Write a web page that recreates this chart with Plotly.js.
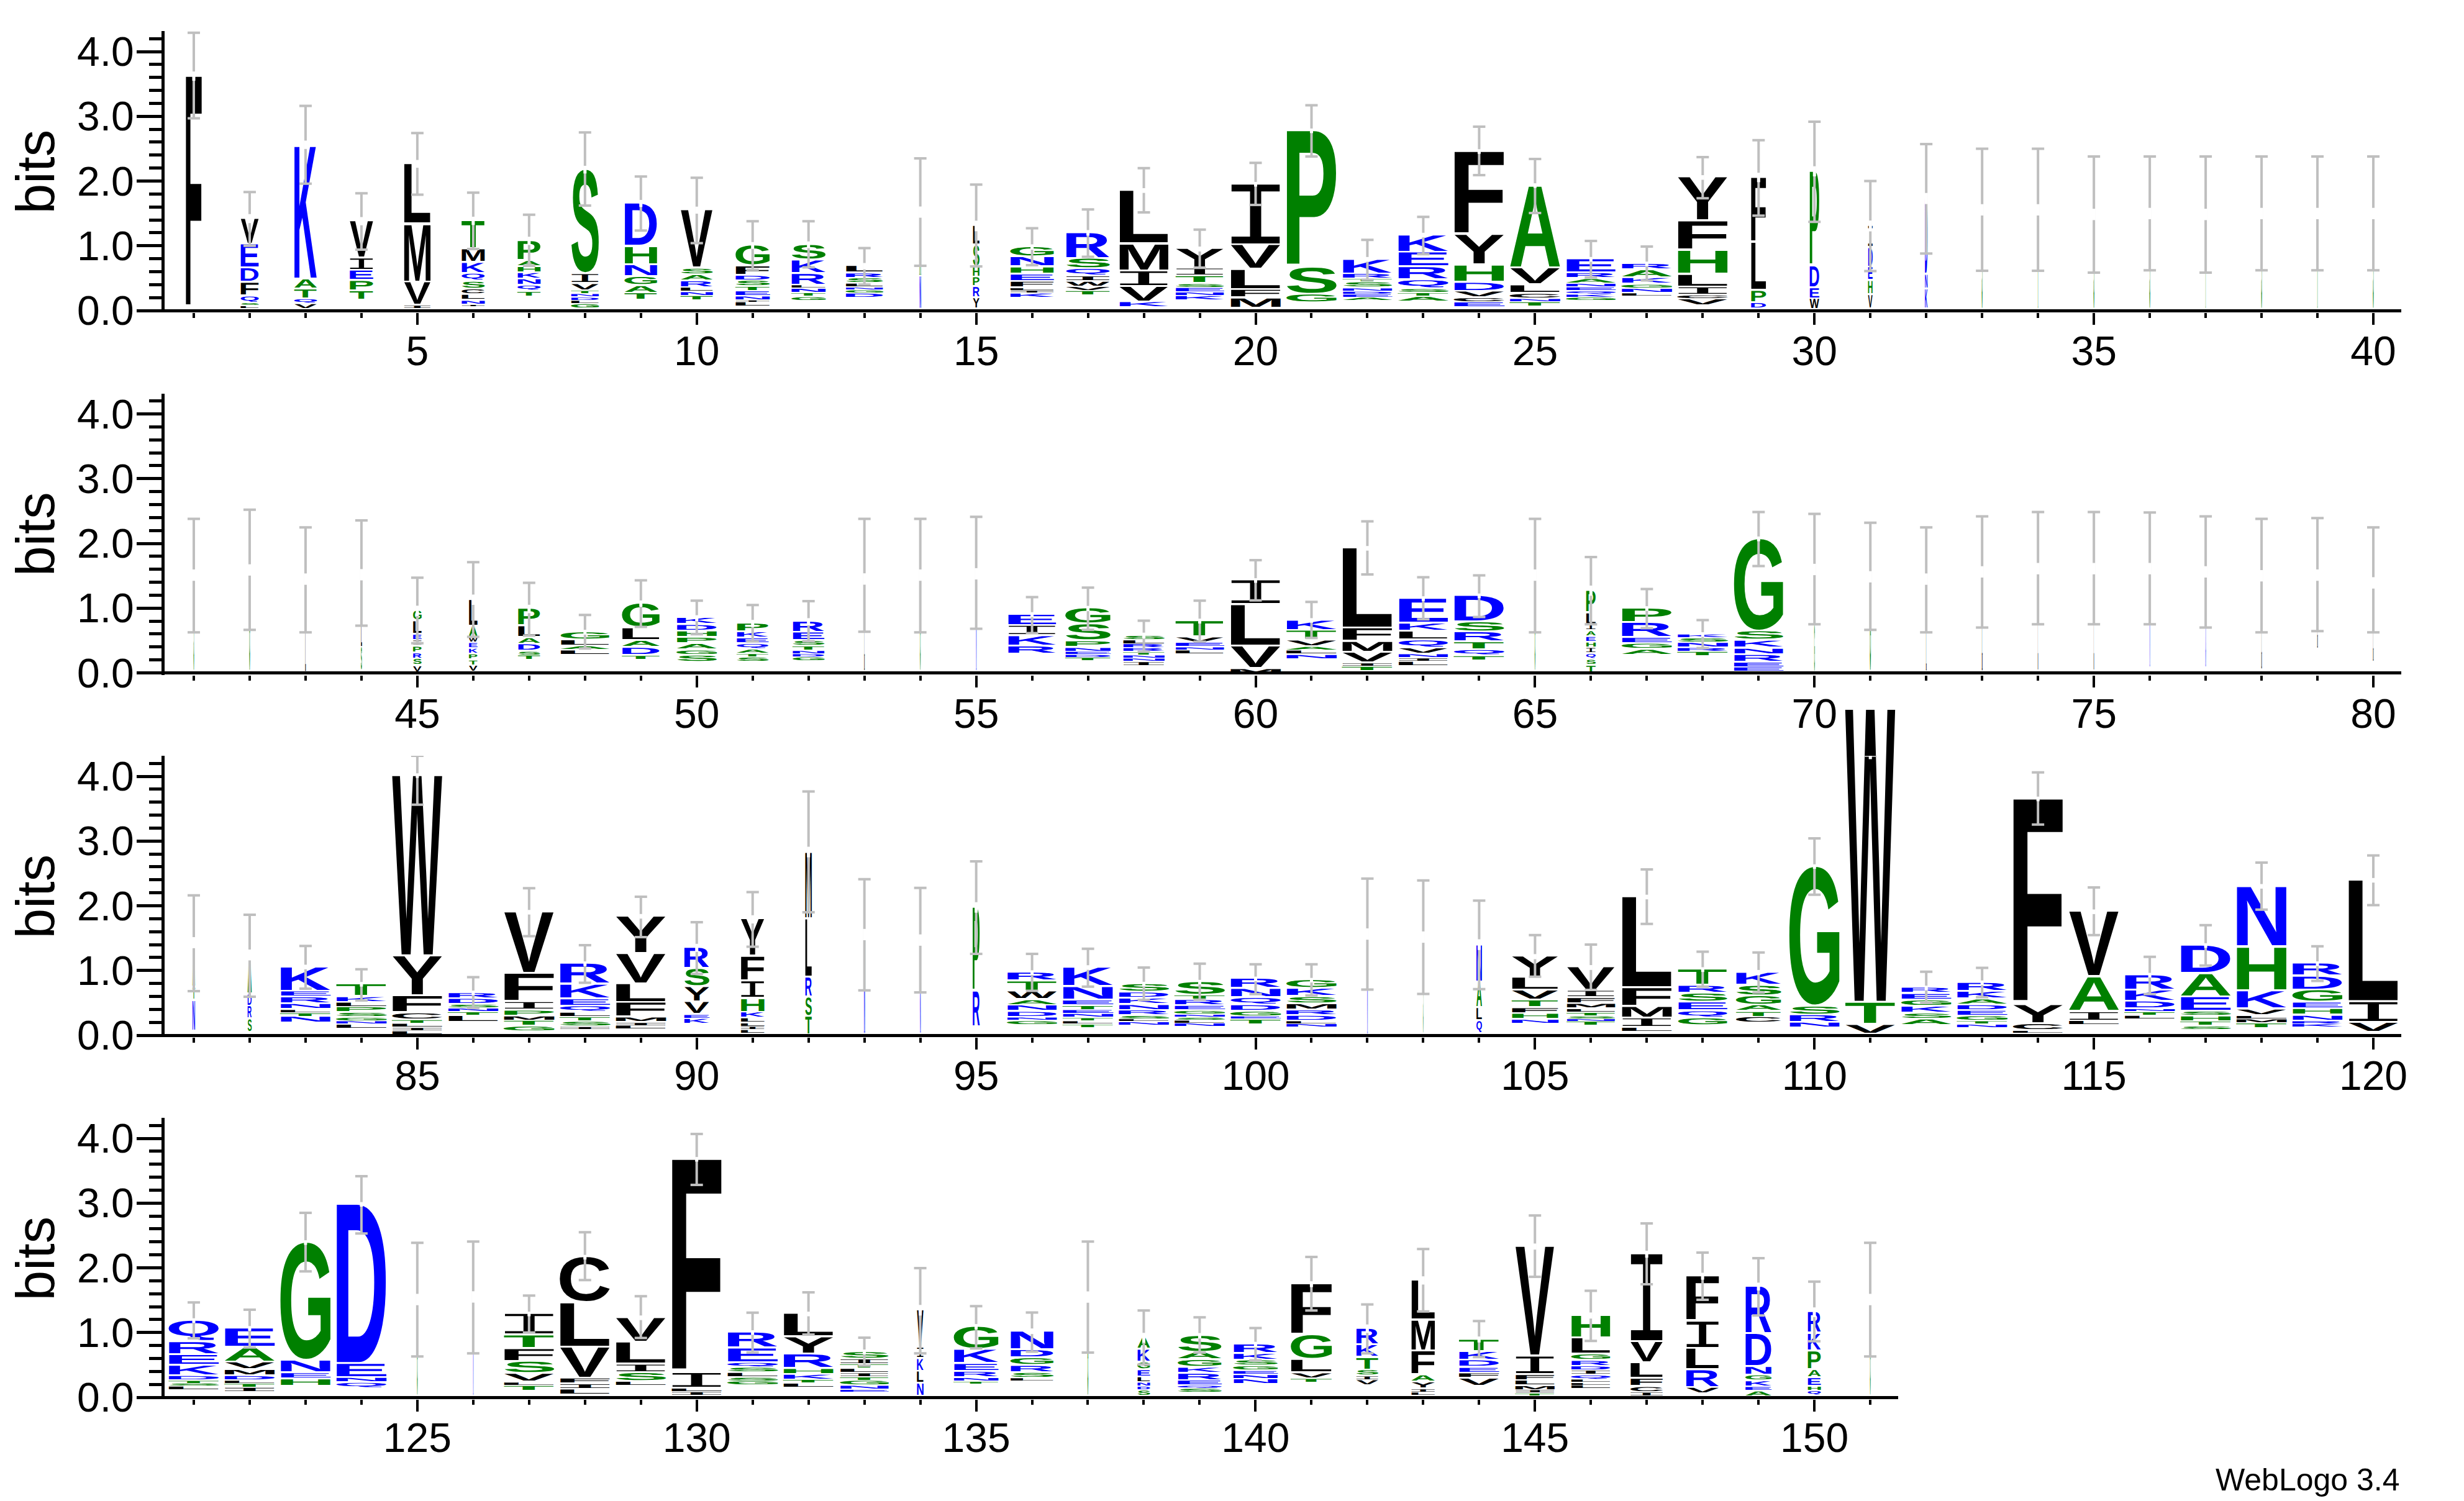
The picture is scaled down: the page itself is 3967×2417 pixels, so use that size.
<!DOCTYPE html>
<html><head><meta charset="utf-8">
<script src="https://cdn.plot.ly/plotly-3.0.1.min.js"></script>
<style>html,body{margin:0;padding:0;background:#fff}#g{width:3967px;height:2417px}</style>
</head><body><div id="g"></div>
<script>
// One entry per sequence position, 1..151. Letters run from the top of the stack downward.
const residues = ["F","VEDFQSL","KATQV","VIEPT","LMVI","TMKQSCLNI","PAHKNQT","SIVTNDLG","DHNGAT","VSARLNT",
"GFDSTENIL","SKRLNTG","LRSLNGD","AN","LSHPRY","GNHEFLIK","RSQIWVT","LMIVK","YITSENK","IVLFM",
"PSG","KRTSNDEA","KERQSTA","FYHDVCE","AVLCNT","ERANEQKG","RAKGNL","YFHLICV","FLPD","PDEW",
"IDEHV","DNK","S","T","S","S","T","S","T","S",
"S","G","TL","GLS","GLEIPRSV","LAWEKPTV","PLADST","GLAL","GLADT","KDHPAGS",
"PKEQATS","RESTNDG","L","G","N","EIKR","GSPNEDT","SLRRTNNI","TVENL","ILVMT",
"KTVALN","LFMVIT","EKLQVNIL","DSRTQT","G","PLIAEHIQST","PREGA","KSNRT","GSKNREE","LG",
"G","TL","L","L","L","N","D","L","L","GL",
"ATN","ADRS","KERNLTN","TKLPSGNL","WYFCTLIL","RDSNTL","VFIPMTG","RKEQLTSI","YVLFMIL","RSYVEK",
"YFIHKLLIL","MLRST","N","GN","PRL","RTWANDNG","KNETENTLT","SDKNRSLN","STREGNSLN","RNQDGET",
"GKSMRDLN","N","S","NALQ","YLVTFHN","VIFMLTSNT","LFMIL","TRSEQG","KSGATC","GSRN",
"WTV","REGKSA","RKADEGTN","FYCL","VAIL","RKDNTL","DAESHTS","NHKVLMT","RDGEHNRK","LIV",
"QREKDTSL","EAVMDLTI","GNEH","DENQ","G","N","ITFSVLT","CLVFIL","VLISL","FILI",
"REQSLSG","LYRHKTL","SITLITGNE","VIKLN","GKERNT","NDGRSL","G","AKGELNDS","SAGKREQS","RKSGENN",
"FGLVT","RKTSIV","LMFAYIL","TKDEFV","VIFLMIT","HLGRDIQLLL","IVLFCI","FILRV","RDNGKEA","RKPAEHQ","G"];
// Letter heights in bits, same order as residues.
const heights = [[3.575],[.40,.37,.22,.21,.11,.04,.03],[2.08,.156,.153,.075,.06],[.575,.19,.156,.16,.117],[.93,.90,.36,.035],
[.44,.21,.17,.12,.12,.085,.085,.064,.02],[.31,.09,.096,.10,.10,.09,.057],[1.615,.15,.11,.05,.05,.05,.05,.05],[.667,.284,.185,.135,.12,.085],[.90,.10,.096,.106,.064,.064,.05],
[.32,.146,.078,.096,.07,.078,.064,.03,.05],[.238,.21,.18,.05,.07,.057,.043],[.114,.075,.085,.057,.04,.05,.05],[.994,.48],[.30,.337,.16,.15,.17,.142],
[.156,.156,.11,.114,.10,.04,.04,.05],[.40,.16,.114,.078,.085,.064,.05],[.824,.42,.24,.24,.064],[.30,.12,.12,.064,.07,.057,.05],[.94,.38,.31,.13,.13],
[2.11,.42,.106],[.23,.078,.05,.09,.05,.043,.05,.036],[.27,.227,.20,.138,.064,.057,.057],[1.29,.47,.266,.14,.10,.07,.057],[1.28,.26,.13,.08,.05,.05],
[.216,.085,.078,.057,.057,.05,.05,.036],[.096,.124,.10,.064,.067,.035],[.678,.454,.37,.195,.128,.06,.078],[1.01,.74,.19,.067],[1.466,.337,.17,.142],
[.34,.30,.21,.22,.19],[1.17,.23,.284],[1.51],[1.51],[1.44],[1.45],[1.44],[1.45],[1.45],[1.45],
[1.46],[1.54],[.81,.60],[.77,.355,.337],[.163,.206,.092,.09,.103,.092,.106,.078],[.412,.177,.078,.089,.089,.089,.089,.078],[.27,.177,.10,.11,.064,.053],[.124,.096,.06,.053],[.38,.195,.106,.124,.046],[.106,.10,.10,.096,.096,.075,.082],
[.135,.096,.082,.089,.067,.053,.05],[.17,.13,.082,.07,.053,.05,.043],[1.40],[1.46],[1.48],[.174,.156,.16,.096],[.248,.26,.10,.064,.046,.046,.036],[.07,.064,.064,.057,.05,.05,.05,.046],[.25,.09,.064,.05,.043],[.38,.64,.347,.078,.043],
[.16,.15,.10,.06,.06,.05],[1.24,.206,.167,.163,.05,.05],[.383,.124,.135,.124,.096,.064,.05,.05],[.408,.156,.153,.124,.092,.05],[1.46],[.347,.185,.092,.092,.085,.089,.089,.089,.089,.085],[.224,.23,.092,.092,.064],[.06,.07,.08,.06,.05],[1.43,.142,.12,.10,.117,.08,.05],[.85,.71],
[1.43],[.80,.60],[1.51],[1.56],[1.56],[1.50],[1.45],[1.42],[1.11],[.11,1.085],
[.69,.2,.45],[.61,.185,.2,.18],[.38,.09,.106,.086,.05,.06,.075],[.195,.086,.074,.086,.07,.06,.05,.047],[2.79,.615,.263,.11,.06,.06,.05,.04],[.094,.09,.06,.055,.055,.078],[.95,.44,.127,.09,.074,.086,.055],[.32,.227,.114,.10,.07,.067,.078,.03],[.576,.47,.29,.23,.078,.05,.04],[.325,.28,.235,.196,.063,.06],
[.576,.383,.266,.215,.094,.07,.055,.05,.04],[1.04,.90,.305,.30,.26],[1.51],[.775,.646],[1.3,.55,.157],[.133,.16,.13,.086,.098,.09,.047,.047],[.30,.21,.08,.07,.06,.06,.05,.047,.04],[.13,.094,.098,.09,.078,.055,.04,.04],[.21,.067,.094,.07,.06,.043,.047,.047,.04],[.153,.14,.114,.098,.08,.043,.055],
[.133,.125,.11,.098,.08,.086,.047,.04],[1.52],[1.47],[.58,.40,.20,.17],[.325,.2,.153,.117,.09,.09,.047],[.36,.11,.094,.078,.055,.055,.047,.04,.047],[1.406,.29,.18,.145,.047],[.25,.12,.137,.133,.11,.09],[.20,.16,.145,.10,.086,.07],[2.16,.137,.117,.06],
[4.536,.345,.12],[.09,.098,.098,.106,.094,.07],[.137,.117,.09,.086,.086,.078,.05,.04],[3.18,.294,.106,.03],[1.01,.537,.145,.047],[.235,.176,.117,.043,.055,.04],[.435,.364,.223,.07,.086,.07,.04],[.94,.68,.28,.098,.055,.063,.055],[.196,.215,.19,.10,.10,.086,.047,.04],[1.88,.32,.125],
[.33,.2,.164,.164,.07,.047,.047,.04],[.296,.226,.117,.097,.07,.05,.062,.05],[1.825,.195,.094,.086],[2.464,.218,.074,.066],[1.46],[1.5],[.33,.21,.2,.187,.133,.05,.06],[.71,.686,.48,.086,.078,.062],[.38,.34,.13,.136,.047],[3.306,.24,.055,.04],
[.242,.226,.078,.078,.07,.062,.047],[.36,.265,.222,.09,.086,.055,.047],[.113,.082,.066,.066,.062,.055,.078,.062,.03],[.577,.17,.2,.187,.175],[.355,.22,.12,.097,.055,.03],[.29,.125,.117,.11,.086,.035],[1.5],[.183,.2,.117,.11,.086,.062,.055,.066],[.26,.117,.117,.09,.113,.078,.047,.047],[.144,.105,.09,.07,.058,.066,.058],
[.79,.38,.203,.09,.043],[.253,.195,.195,.094,.062,.062],[.616,.48,.37,.11,.105,.05,.035],[.19,.136,.11,.086,.078,.097],[1.696,.285,.094,.078,.07,.047,.03],[.35,.25,.097,.09,.066,.07,.07,.047,.04,.04],[1.357,.327,.24,.125,.09,.043],[.70,.42,.33,.273,.07],[.73,.51,.133,.086,.094,.062,.062],[.33,.273,.29,.125,.133,.07,.05],[1.46]];
// Height of the top of each stack, bits.
const stackTops = [3.62,1.42,2.56,1.38,2.265,1.385,1.076,2.176,1.654,1.55,1.005,1.015,.685,1.52,1.306,.98,1.20,1.853,.95,1.95,
2.776,.79,1.165,2.456,1.93,.79,.72,2.055,2.055,2.15,1.306,1.73,1.555,1.555,1.484,1.498,1.484,1.498,1.498,1.498,
1.51,1.59,1.448,1.516,.958,1.13,.987,.628,1.07,.845,.763,.79,1.45,1.51,1.53,.90,.994,.575,.80,1.427,
.81,1.924,1.147,1.19,1.51,1.27,.994,.593,2.07,1.597,1.484,1.448,1.56,1.61,1.61,1.61,1.56,1.50,1.51,1.39,
1.43,1.24,1.054,.787,4.01,.654,1.90,1.105,1.837,1.35,1.79,2.83,1.555,1.47,1.974,.967,1.046,.79,.82,.87,
.85,1.563,1.516,1.40,1.214,1.046,2.135,1.014,.967,2.605,5.04,.73,.81,3.65,1.907,.928,1.386,2.30,1.105,2.393,
1.185,1.064,2.39,2.98,1.51,1.55,1.287,2.164,1.228,3.676,1.0,1.287,.70,1.345,1.09,1.02,1.548,.92,.95,.815,
1.747,1.06,1.805,.893,2.328,1.263,2.21,1.87,1.71,1.314,1.51];
// Column width as a share of a full-width column.
const columnWidths = [.32,.36,.45,.47,.53,.46,.46,.55,.65,.64,.68,.68,.74,.03,.13,.87,.87,.98,.96,1,
1,.98,1,1,1,.98,1,1,.30,.19,.09,.05,.015,.015,.015,.015,.012,.015,.015,.015,
.012,.015,.012,.02,.17,.17,.44,.97,.75,.80,.63,.63,.008,.012,.01,.96,.90,.82,.96,1,
1,1,.98,1,.012,.19,1,1,.98,.012,.02,.01,.01,.007,.007,.008,.008,.008,.008,.008,
.05,.08,1,1,1,1,1,1,1,.5,.47,.13,.02,.015,.14,.99,1,1,1,1,
1,.01,.008,.11,.93,.96,1,.98,.9,1,1,1,1,1,1,1,1,1,1,1,
1,1,1,1,.012,.008,1,1,1,1,1,1,.96,.13,.89,.86,.015,.25,.87,.88,
.82,.44,.47,.80,.78,.78,.65,.66,.52,.26,.012];
// Error bar ends, bits.
const errorLow = [2.97,1.0,1.96,.94,1.79,.95,.69,1.62,1.235,1.04,.63,.667,.40,.69,.68,.70,.83,1.515,.66,1.63,
2.38,.475,.87,2.09,1.505,.51,.465,1.735,1.466,1.37,.61,.88,.614,.614,.586,.62,.586,.62,.62,.62,
.625,.664,.625,.73,.458,.557,.575,.376,.71,.596,.486,.49,.635,.625,.68,.614,.664,.327,.483,1.12,
.54,1.52,.827,.863,.625,.75,.69,.383,1.65,.75,.664,.625,.70,.75,.75,.75,.70,.625,.646,.625,
.68,.595,.72,.537,3.56,.42,1.53,.81,1.516,.948,1.367,1.90,.693,.662,1.257,.685,.75,.545,.548,.635,
.615,.705,.638,.713,.905,.70,1.72,.75,.66,2.17,4.32,.50,.588,3.255,1.547,.635,1.077,1.94,.84,2.01,
.912,.77,1.945,2.53,.63,.678,1.0,1.81,.916,3.28,.694,.97,.49,.678,.756,.706,.69,.507,.69,.57,
1.34,.678,1.326,.62,1.86,.87,1.747,1.505,1.263,.865,.63];
const errorHigh = [4.29,1.83,3.16,1.81,2.74,1.82,1.48,2.75,2.07,2.05,1.38,1.38,.965,2.35,1.945,1.27,1.56,2.20,1.25,2.28,
3.17,1.09,1.445,2.84,2.34,1.075,.987,2.37,2.63,2.915,2.0,2.57,2.50,2.50,2.378,2.378,2.378,2.378,2.378,2.378,
2.38,2.52,2.247,2.354,1.47,1.71,1.39,.895,1.43,1.115,1.047,1.107,2.38,2.38,2.41,1.17,1.317,.806,1.115,1.74,
1.097,2.34,1.477,1.505,2.38,1.79,1.296,.816,2.485,2.456,2.32,2.247,2.417,2.485,2.485,2.478,2.417,2.38,2.39,2.247,
2.16,1.86,1.38,1.02,4.316,.897,2.27,1.39,2.14,1.747,2.21,3.764,2.41,2.276,2.687,1.257,1.336,1.046,1.105,1.097,
1.097,2.42,2.39,2.08,1.547,1.40,2.56,1.29,1.277,3.04,4.62,.98,1.04,4.06,2.284,1.21,1.70,2.667,1.375,2.777,
1.466,1.353,2.85,3.415,2.386,2.405,1.57,2.55,1.56,4.066,1.306,1.62,.92,1.996,1.407,1.31,2.405,1.34,1.236,1.07,
2.168,1.435,2.29,1.177,2.807,1.645,2.686,2.234,2.148,1.786,2.386];
const rowSpans = [[1,40],[41,80],[81,120],[121,151]];
const yTickValues = [0,1,2,3,4];
const axisTitle = "bits";
const creditText = "WebLogo 3.4";

const W = 3967, H = 2417, PX_PER_BIT = 104.25, FULL_COL = 81;
const BLACK = "#000000", GREEN = "#008000", BLUE = "#0000ff";
const colorOf = c => "FLIVMWYC".includes(c) ? BLACK : "GSTAPH".includes(c) ? GREEN : BLUE;
const familyOf = c => c === "I" ? "Liberation Mono" : "Liberation Sans";
const weightOf = c => c === "I" ? "normal" : "bold";
const baselines = [500, 1083.5, 1667, 2250];
const rightEdges = [3866, 3866, 3866, 3056];

const traces = [], layout = {
  width: W, height: H, margin: {l:0,r:0,t:0,b:0,pad:0}, showlegend: false,
  paper_bgcolor: "#fff", plot_bgcolor: "#fff", hovermode: false,
  font: {family: "Liberation Sans", color: "#000", size: 66},
  annotations: [{text: creditText, xref:"paper", yref:"paper", x:3866/W, y:1-2383/H, xanchor:"right", yanchor:"middle",
    showarrow:false, font:{family:"Liberation Sans", size:50, color:"#000"}}]
};

rowSpans.forEach((span, r) => {
  const sfx = r === 0 ? "" : String(r+1), xn = "x"+sfx, yn = "y"+sfx;
  const base = baselines[r];
  const cols = []; for (let c = span[0]; c <= span[1]; c++) cols.push(c);
  layout["xaxis"+sfx] = {
    domain: [265/W, rightEdges[r]/W], range: [span[0]-0.5-2/90, span[1]+0.5], anchor: yn,
    showgrid:false, zeroline:false, showline:false,
    tickmode:"linear", tick0:0, dtick:5, ticks:"outside", ticklen:19, tickwidth:4, tickcolor:"#000",
    minor:{dtick:1, tick0:0, ticks:"outside", ticklen:8, tickwidth:4, tickcolor:"#000", showgrid:false},
    tickfont:{family:"Liberation Sans", size:66, color:"#000"}, ticklabelstandoff: -14, fixedrange:true
  };
  layout["yaxis"+sfx] = {
    domain: [1-(base+3)/H, 1-(base-450)/H], range: [-3/PX_PER_BIT, 450/PX_PER_BIT], anchor: xn,
    showgrid:false, zeroline:true, zerolinecolor:"#000", zerolinewidth:5,
    showline:true, linecolor:"#000", linewidth:5,
    tickmode:"array", tickvals:yTickValues, ticktext:yTickValues.map(v=>v.toFixed(1)),
    ticks:"outside", ticklen:40, tickwidth:5, tickcolor:"#000",
    minor:{dtick:0.2, tick0:0, ticks:"outside", ticklen:20, tickwidth:5, tickcolor:"#000", showgrid:false},
    tickfont:{family:"Liberation Sans", size:66, color:"#000"}, ticklabelstandoff: -9, fixedrange:true,
    title:{text:axisTitle, font:{family:"Liberation Sans", size:87, color:"#000"}, standoff:9}
  };

  const lx=[], ly=[], lt=[], lc=[], lf=[], lw=[], meta=[];
  cols.forEach(c => {
    let top = stackTops[c-1];
    const letters = residues[c-1], hs = heights[c-1];
    for (let k = 0; k < letters.length; k++) {
      const bottom = top - hs[k];
      lx.push(c); ly.push(bottom); lt.push(letters[k]); lc.push(colorOf(letters[k]));
      lf.push(familyOf(letters[k])); lw.push(weightOf(letters[k]));
      meta.push([hs[k], columnWidths[c-1], k === letters.length-1 ? 1 : 0]);
      top = bottom;
    }
  });
  traces.push({type:"scatter", mode:"text", x:lx, y:ly, text:lt, textposition:"middle center", cliponaxis:false,
    textfont:{size:100, color:lc, family:lf, weight:lw}, customdata:meta, xaxis:xn, yaxis:yn, hoverinfo:"skip"});
  traces.push({type:"scatter", mode:"markers", x:cols, y:cols.map(c=>errorLow[c-1]), cliponaxis:false,
    marker:{size:2, opacity:0}, xaxis:xn, yaxis:yn, hoverinfo:"skip",
    error_y:{type:"data", symmetric:false, array:cols.map(c=>errorHigh[c-1]-errorLow[c-1]), arrayminus:cols.map(()=>0),
      color:"#bfbfbf", thickness:4, width:10}});
  const gap = c => (3.7 + 5.5*(1-columnWidths[c-1])) / PX_PER_BIT;
  traces.push({type:"scatter", mode:"markers", x:cols, y:cols.map(c=>Math.min(stackTops[c-1],4.3)), cliponaxis:false,
    marker:{size:2, opacity:0}, xaxis:xn, yaxis:yn, hoverinfo:"skip",
    error_y:{type:"data", symmetric:true, array:cols.map(gap), color:"#ffffff", thickness:5, width:0}});
});

const gd = document.getElementById("g");
Plotly.newPlot(gd, traces, layout, {staticPlot:true, displayModeBar:false}).then(() => {
  const ctx = document.createElement("canvas").getContext("2d"), cache = {};
  const metrics = (ch, fam, wt) => {
    const key = ch+fam+wt;
    if (!cache[key]) {
      ctx.font = wt+' 100px "'+fam+'"';
      const m = ctx.measureText(ch);
      cache[key] = {l:m.actualBoundingBoxLeft, r:m.actualBoundingBoxRight, a:m.actualBoundingBoxAscent, d:m.actualBoundingBoxDescent};
    }
    return cache[key];
  };
  gd.querySelectorAll(".scatterlayer .trace").forEach(g => {
    const t = g.__data__[0].trace;
    if (t.mode !== "text") return;
    const xa = gd._fullLayout[t.xaxis.replace("x","xaxis")], ya = gd._fullLayout[t.yaxis.replace("y","yaxis")];
    const ppb = Math.abs(ya.c2p(0)-ya.c2p(1));
    g.querySelectorAll(".textpoint").forEach((p, i) => {
      p.removeAttribute("transform");
      const el = p.querySelector("text"), ch = t.text[i], fam = t.textfont.family[i], wt = t.textfont.weight[i];
      const m = metrics(ch, fam, wt);
      const hPx = t.customdata[i][0]*ppb, wPx = t.customdata[i][1]*FULL_COL, isLast = t.customdata[i][2];
      const pad = isLast ? 0 : Math.min(3, 0.3*hPx), ink = hPx-pad;
      const bottom = ya.c2p(t.y[i]), inkBottom = bottom-hPx+ink, cx = xa.c2p(t.x[i]);
      const sx = wPx/(m.l+m.r), sy = ink/(m.a+m.d);
      el.textContent = ch;
      el.removeAttribute("dy");
      el.setAttribute("x",0); el.setAttribute("y",0);
      el.setAttribute("text-anchor","start");
      el.setAttribute("text-rendering","geometricPrecision");
      el.setAttribute("transform","translate("+cx+","+inkBottom+") scale("+sx+","+sy+") translate("+((m.l-m.r)/2)+","+(-m.d)+")");
      if (wPx >= 0.6 && wPx < 4) {
        el.style.stroke = t.textfont.color[i];
        el.style.strokeWidth = "1.3px";
        el.style.vectorEffect = "non-scaling-stroke";
      } else if (ink < 6 && wPx >= 4) {
        el.style.stroke = t.textfont.color[i];
        el.style.strokeWidth = "0.8px";
        el.style.vectorEffect = "non-scaling-stroke";
      }
    });
  });
});
</script>
</body></html>
